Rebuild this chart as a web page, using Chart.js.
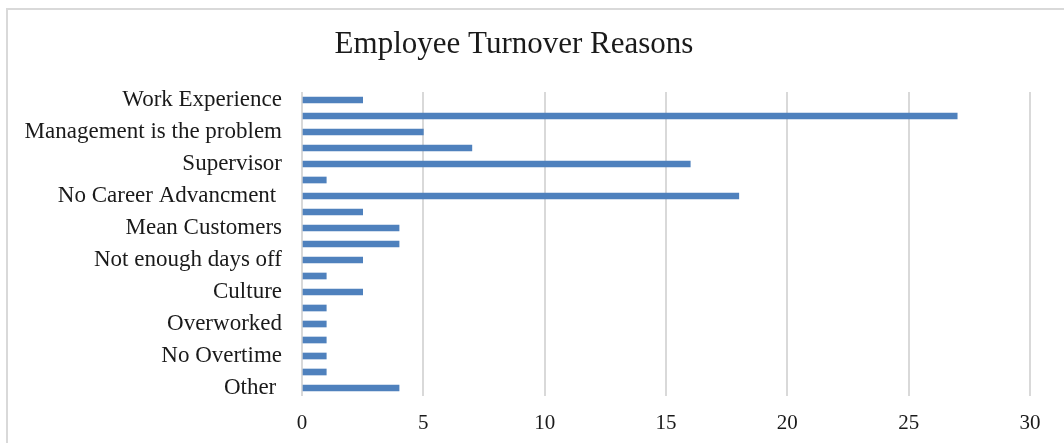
<!DOCTYPE html>
<html>
<head>
<meta charset="utf-8">
<style>
  html, body { margin: 0; padding: 0; background: #fff; }
  #wrap { position: relative; width: 1064px; height: 443px; }
</style>
<script src="https://cdn.jsdelivr.net/npm/chart.js@4/dist/chart.umd.min.js"></script>
</head>
<body>
<div id="wrap"><canvas id="c" width="1064" height="443"></canvas></div>
<script>
const chartTitle = 'Employee Turnover Reasons';
const categories = [
  'Work Experience', '', 'Management is the problem', '', 'Supervisor', '',
  'No Career Advancment ', '', 'Mean Customers', '', 'Not enough days off', '',
  'Culture', '', 'Overworked', '', 'No Overtime', '', 'Other '
];
const values = [2.5, 27, 5, 7, 16, 1, 18, 2.5, 4, 4, 2.5, 1, 2.5, 1, 1, 1, 1, 1, 4];
const xTicks = [0, 5, 10, 15, 20, 25, 30];

const serif = '"Liberation Serif", "Times New Roman", serif';

const framePlugin = {
  id: 'frame',
  beforeDraw(chart) {
    const ctx = chart.ctx;
    ctx.save();
    ctx.fillStyle = '#ffffff';
    ctx.fillRect(0, 0, chart.width, chart.height);
    ctx.strokeStyle = '#d9d9d9';
    ctx.lineWidth = 2;
    ctx.beginPath();
    ctx.moveTo(7, chart.height);
    ctx.lineTo(7, 9);
    ctx.lineTo(chart.width, 9);
    ctx.stroke();
    ctx.restore();
  },
  afterDraw(chart) {
    const ctx = chart.ctx;
    ctx.save();
    ctx.fillStyle = '#1a1a1a';
    ctx.font = '31px ' + serif;
    ctx.textAlign = 'center';
    ctx.textBaseline = 'middle';
    ctx.fillText(chartTitle, 514, 45);
    ctx.restore();
  }
};

new Chart(document.getElementById('c'), {
  type: 'bar',
  data: {
    labels: categories,
    datasets: [{
      data: values,
      backgroundColor: '#4f81bd',
      borderWidth: 0,
      barThickness: 6
    }]
  },
  options: {
    indexAxis: 'y',
    responsive: false,
    animation: false,
    layout: { padding: { top: 92, right: 34, bottom: 0, left: 0 } },
    plugins: {
      legend: { display: false },
      title: { display: false },
      tooltip: { enabled: false }
    },
    scales: {
      x: {
        min: 0,
        max: 30,
        afterBuildTicks(scale) { scale.ticks = xTicks.map(v => ({ value: v })); },
        afterFit(scale) { scale.height = 47; },
        grid: { color: '#d9d9d9', lineWidth: 2, drawTicks: false },
        border: { display: false },
        ticks: {
          padding: 15,
          color: '#1a1a1a',
          font: { family: serif, size: 21 }
        }
      },
      y: {
        afterFit(scale) { scale.width = 302; },
        grid: { display: false, drawTicks: false },
        border: { display: false },
        ticks: {
          autoSkip: false,
          padding: 20,
          color: '#1a1a1a',
          font: { family: serif, size: 23 }
        }
      }
    }
  },
  plugins: [framePlugin]
});
</script>
</body>
</html>
